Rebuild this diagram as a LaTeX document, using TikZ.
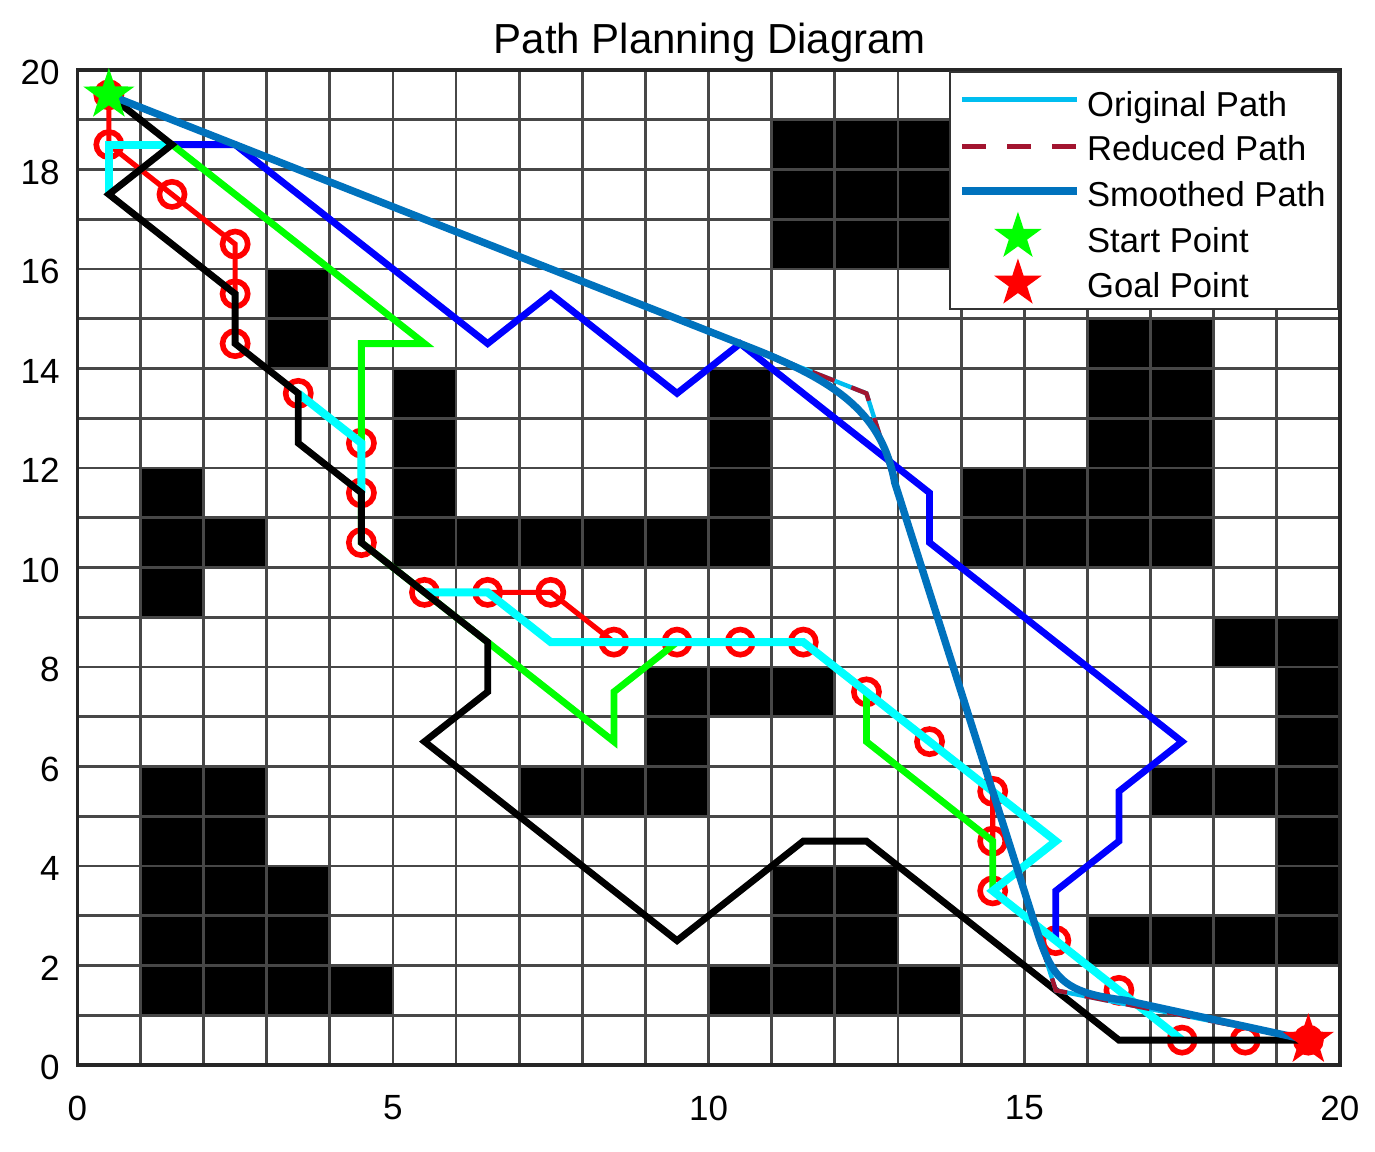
\documentclass[tikz,border=0pt]{standalone}
\usepackage{fontspec}
\setmainfont{Liberation Sans}
\usetikzlibrary{shapes.geometric}
\definecolor{origc}{RGB}{0,190,240}
\definecolor{redc}{RGB}{162,20,47}
\definecolor{smoothc}{RGB}{0,114,189}
\definecolor{cyanc}{RGB}{0,255,255}
\definecolor{greenc}{RGB}{0,255,0}
\definecolor{bluec}{RGB}{0,0,255}
\definecolor{redm}{RGB}{255,0,0}
\begin{document}
\begin{tikzpicture}[x=31.565pt,y=24.875pt,
  obst/.style={fill=black},
  gridline/.style={black!72,line width=1.4pt},
  axisbox/.style={black!85,line width=1.6pt},
  pth/.style={line width=3.4pt},
  redpath/.style={redm,line width=2.6pt},
  mk/.style={draw=redm,line width=2.8pt},
  cyanpath/.style={cyanc,line width=4pt},
  origpath/.style={origc,line width=2.2pt},
  redupath/.style={redc,line width=2.2pt,dash pattern=on 12pt off 9pt},
  smoothpath/.style={smoothc,line width=3.7pt},
  startstar/.style={star,star points=5,star point ratio=2.6,fill=greenc,inner sep=0pt,minimum size=27pt},
  goalstar/.style={star,star points=5,star point ratio=2.6,fill=redm,inner sep=0pt,minimum size=27pt},
  legstar/.style={star,star points=5,star point ratio=2.6,inner sep=0pt,minimum size=25pt},
  ticklab/.style={font=\fontsize{17.5}{20}\selectfont,inner sep=0pt},
  legtext/.style={anchor=base west,font=\fontsize{17.3}{20}\selectfont,inner sep=0pt},
  titletext/.style={anchor=base,font=\fontsize{21}{24}\selectfont,inner sep=0pt}
]
\useasboundingbox (-38.65pt,-43pt) rectangle (648.85pt,532.5pt);
\fill[white] (-38.65pt,-43pt) rectangle (648.85pt,532.5pt);

% obstacles
\fill[obst] (11,16) rectangle (14,19);
\fill[obst] (3,14) rectangle (4,16);
\fill[obst] (5,10) rectangle (6,14);
\fill[obst] (5,10) rectangle (11,11);
\fill[obst] (10,10) rectangle (11,14);
\fill[obst] (1,9) rectangle (2,12);
\fill[obst] (2,10) rectangle (3,11);
\fill[obst] (16,10) rectangle (18,15);
\fill[obst] (14,10) rectangle (16,12);
\fill[obst] (18,8) rectangle (20,9);
\fill[obst] (19,2) rectangle (20,9);
\fill[obst] (17,5) rectangle (19,6);
\fill[obst] (16,2) rectangle (20,3);
\fill[obst] (9,7) rectangle (12,8);
\fill[obst] (9,5) rectangle (10,8);
\fill[obst] (7,5) rectangle (10,6);
\fill[obst] (11,2) rectangle (13,4);
\fill[obst] (10,1) rectangle (14,2);
\fill[obst] (1,1) rectangle (3,6);
\fill[obst] (3,1) rectangle (4,4);
\fill[obst] (4,1) rectangle (5,2);

% grid
\foreach \i in {1,...,19} {
  \draw[gridline] (\i,0) -- (\i,20);
  \draw[gridline] (0,\i) -- (20,\i);
}
\draw[axisbox] (0,0) rectangle (20,20);

% tick labels
\foreach \v in {0,2,...,20} \node[ticklab,anchor=east] (yl\v) at (-0.274,\v-0.05) {\v};
\foreach \v in {0,5,...,20} \node[ticklab] (xl\v) at (\v,-0.864) {\v};

% title
\node[titletext] (title) at (10.02,20.335) {Path Planning Diagram};

% red path with circle markers
\draw[redpath] (0.5,19.5)--(0.5,18.5)--(1.5,17.5)--(2.5,16.5)--(2.5,15.5)--(2.5,14.5)--(3.5,13.5)--(4.5,12.5)--(4.5,11.5)--(4.5,10.5)--(5.5,9.5)--(6.5,9.5)--(7.5,9.5)--(8.5,8.5)--(9.5,8.5)--(10.5,8.5)--(11.5,8.5)--(12.5,7.5)--(13.5,6.5)--(14.5,5.5)--(14.5,4.5)--(14.5,3.5)--(15.5,2.5)--(16.5,1.5)--(17.5,0.5)--(18.5,0.5)--(19.5,0.5);
\foreach \p in {(0.5,19.5),(0.5,18.5),(1.5,17.5),(2.5,16.5),(2.5,15.5),(2.5,14.5),(3.5,13.5),(4.5,12.5),(4.5,11.5),(4.5,10.5),(5.5,9.5),(6.5,9.5),(7.5,9.5),(8.5,8.5),(9.5,8.5),(10.5,8.5),(11.5,8.5),(12.5,7.5),(13.5,6.5),(14.5,5.5),(14.5,4.5),(14.5,3.5),(15.5,2.5),(16.5,1.5),(17.5,0.5),(18.5,0.5),(19.5,0.5)}
  \draw[mk] \p circle (6.3pt);

% blue path
\draw[pth,bluec] (1.5,18.5)--(2.5,18.5)--(6.5,14.5)--(7.5,15.5)--(9.5,13.5)--(10.5,14.5)--(13.5,11.5)--(13.5,10.5)--(17.5,6.5)--(16.5,5.5)--(16.5,4.5)--(15.5,3.5)--(15.5,2.5);

% green path
\draw[pth,greenc] (1.5,18.5)--(5.5,14.5)--(4.5,14.5)--(4.5,10.5)--(6.5,8.5)--(8.5,6.5)--(8.5,7.5)--(9.5,8.5)--(11.5,8.5)--(12.5,7.5)--(12.5,6.5)--(14.5,4.5)--(14.5,3.5);

% cyan path
\draw[cyanpath] (1.5,18.5)--(0.5,18.5)--(0.5,17.5);
\draw[cyanpath] (3.5,13.5)--(4.5,12.5)--(4.5,11.5);
\draw[cyanpath] (5.5,9.5)--(6.5,9.5)--(7.5,8.5)--(11.5,8.5)--(15.5,4.5)--(14.5,3.5)--(17.5,0.5);

% black path
\draw[pth,black] (0.5,19.5)--(1.5,18.5)--(0.5,17.5)--(2.5,15.5)--(2.5,14.5)--(3.5,13.5)--(3.5,12.5)--(4.5,11.5)--(4.5,10.5)--(6.5,8.5)--(6.5,7.5)--(5.5,6.5)--(9.5,2.5)--(11.5,4.5)--(12.5,4.5)--(16.5,0.5)--(19.5,0.5);

% original, reduced, smoothed
\draw[origpath] (0.5,19.5)--(10.5,14.5)--(12.5,13.5)--(15.5,1.5)--(19.5,0.5);
\draw[redupath] (0.5,19.5)--(10.5,14.5)--(12.5,13.5)--(15.5,1.5)--(19.5,0.5);
\draw[smoothpath] (0.5,19.5) -- (10.7,14.4) .. controls (12.1,13.7) and (12.75,13.05) .. (12.95,11.7) -- (15.2,2.7) .. controls (15.45,1.7) and (15.65,1.45) .. (16.6,1.3) -- (19.5,0.5);

% start / goal
\node[startstar] (start) at (0.5,19.5) {};
\node[goalstar] (goal) at (19.5,0.5) {};

% legend
\draw[black!80,line width=1.2pt,fill=white] (13.82,15.2) rectangle (19.98,19.96);
\coordinate (la1) at (14.02,19.41); \coordinate (lb1) at (15.83,19.41);
\coordinate (la2) at (14.02,18.47); \coordinate (lb2) at (15.83,18.47);
\coordinate (la3) at (14.02,17.57); \coordinate (lb3) at (15.83,17.57);
\draw[origc,line width=2.4pt] (la1) -- (lb1);
\draw[redc,line width=2.4pt,dash pattern=on 12pt off 10.5pt] (la2) -- (lb2);
\draw[smoothc,line width=3.7pt] (la3) -- (lb3);
\node[legstar,fill=greenc] (legstart) at (14.9,16.65) {};
\node[legstar,fill=redm] (leggoal) at (14.9,15.71) {};
\node[legtext] (t1) at (15.99,19.075) {Original Path};
\node[legtext] (t2) at (15.99,18.19) {Reduced Path};
\node[legtext] (t3) at (15.99,17.25) {Smoothed Path};
\node[legtext] (t4) at (15.99,16.33) {Start Point};
\node[legtext] (t5) at (15.99,15.43) {Goal Point};
\end{tikzpicture}
\end{document}
